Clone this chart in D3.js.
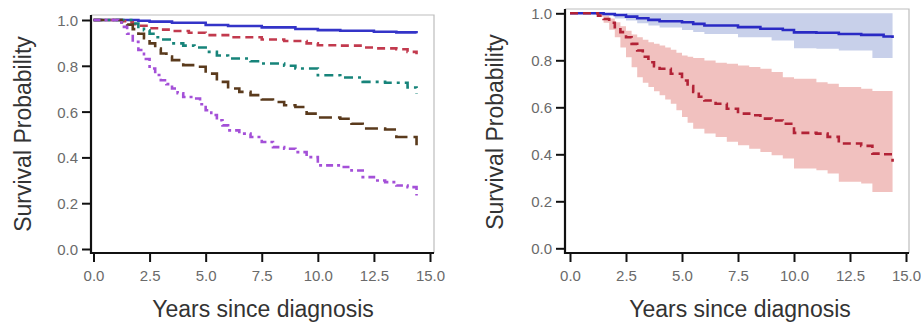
<!DOCTYPE html>
<html>
<head>
<meta charset="utf-8">
<script src="https://cdn.jsdelivr.net/npm/d3@7"></script>
<style>
  body { margin: 0; background: #fff; }
  .tick-label { font-family: "Liberation Sans", Arial, sans-serif; font-size: 15px; fill: #6a6a6a; }
  .axis-title { font-family: "Liberation Sans", Arial, sans-serif; font-size: 23px; fill: #333; }
</style>
</head>
<body>
<svg id="chart" width="921" height="327"></svg>
<script>

// ---------------------------//
//       DATA                 //
// ---------------------------//

var xTicks = [0, 2.5, 5, 7.5, 10, 12.5, 15];
var yTicks = [0, 0.2, 0.4, 0.6, 0.8, 1.0];

// left panel: [years, survival]
var leftBlue = [[0,1],[1.5,1],[2,0.997],[2.5,0.993],[3.5,0.988],[5,0.978],[6,0.974],[7.5,0.968],[9,0.961],[10,0.956],[11,0.953],[12.5,0.949],[13.5,0.946],[14.4,0.942]];
var leftRed = [[0,1],[1,1],[1.25,0.995],[1.5,0.99],[1.75,0.982],[2,0.975],[2.5,0.964],[3,0.958],[3.5,0.952],[4.25,0.944],[5,0.934],[6,0.925],[7.5,0.915],[8.5,0.908],[9.5,0.898],[10,0.89],[11,0.888],[12,0.88],[12.5,0.876],[13.5,0.872],[14,0.861],[14.4,0.85]];
var leftGreen = [[0,1],[1.5,1],[1.75,0.985],[2,0.97],[2.25,0.955],[2.5,0.94],[2.75,0.925],[3,0.915],[3.5,0.898],[4,0.888],[4.5,0.88],[5,0.861],[5.5,0.845],[6,0.832],[7,0.82],[7.5,0.81],[8.5,0.8],[9,0.788],[10,0.759],[11,0.749],[12,0.73],[13,0.726],[14,0.705],[14.4,0.679]];
var leftBrown = [[0,1],[1.25,0.99],[1.5,0.98],[1.75,0.96],[2,0.94],[2.25,0.92],[2.5,0.898],[2.75,0.875],[3,0.854],[3.25,0.84],[3.5,0.825],[4,0.803],[4.5,0.796],[5,0.766],[5.5,0.73],[6,0.701],[6.5,0.686],[7,0.672],[7.5,0.653],[8,0.642],[8.5,0.628],[9,0.62],[9.5,0.591],[10,0.574],[11,0.569],[11.5,0.547],[12,0.526],[13,0.522],[13.5,0.489],[14.4,0.453]];
var leftPurple = [[0,1],[1.1,0.99],[1.25,0.97],[1.5,0.94],[1.75,0.905],[2,0.869],[2.25,0.83],[2.5,0.788],[2.75,0.76],[3,0.737],[3.25,0.72],[3.5,0.701],[3.75,0.68],[4,0.664],[4.5,0.657],[4.75,0.632],[5,0.606],[5.25,0.585],[5.5,0.562],[5.75,0.54],[6,0.518],[6.5,0.504],[7,0.489],[7.5,0.467],[8,0.445],[8.5,0.438],[9,0.423],[9.5,0.401],[10,0.365],[11,0.358],[11.5,0.343],[12,0.314],[12.5,0.299],[13,0.292],[13.5,0.277],[14,0.27],[14.4,0.234]];

// right panel: lines [years, survival], bands [years, lower, upper]
var rightBlue = [[0,1],[1,1],[1.5,0.997],[2,0.993],[2.5,0.986],[3,0.979],[3.5,0.972],[4,0.966],[5,0.962],[5.5,0.955],[6,0.948],[7.5,0.941],[8.5,0.934],[9.5,0.929],[10,0.919],[11,0.917],[12,0.912],[13,0.908],[14,0.901],[14.4,0.895]];
var rightRed = [[0,1],[1,1],[1.25,0.99],[1.5,0.976],[1.75,0.96],[2,0.941],[2.25,0.92],[2.5,0.898],[2.75,0.87],[3,0.842],[3.25,0.815],[3.5,0.792],[3.75,0.775],[4,0.764],[4.5,0.743],[5,0.714],[5.25,0.69],[5.5,0.665],[5.75,0.645],[6,0.629],[6.5,0.615],[7,0.594],[7.5,0.573],[8,0.566],[8.5,0.552],[9,0.544],[9.5,0.53],[10,0.491],[11,0.488],[11.5,0.474],[12,0.446],[13,0.436],[13.5,0.403],[14,0.4],[14.4,0.368]];
var rightBlueBand = [[0,1,1],[1,0.995,1],[1.5,0.99,1],[2,0.978,0.998],[2.5,0.969,1],[3,0.958,1],[3.5,0.948,1],[4,0.94,1],[5,0.929,1],[5.5,0.92,1],[6,0.912,1],[7.5,0.898,1],[9,0.884,1],[10,0.851,1],[11,0.849,1],[12,0.842,1],[13.5,0.81,1],[14.4,0.806,1]];
var rightRedBand = [[0,1,1],[1,1,1],[1.25,0.985,1],[1.5,0.96,0.99],[1.75,0.93,0.978],[2,0.898,0.962],[2.25,0.855,0.945],[2.5,0.813,0.926],[2.75,0.77,0.91],[3,0.728,0.898],[3.25,0.705,0.887],[3.5,0.686,0.877],[3.75,0.668,0.87],[4,0.651,0.863],[4.25,0.633,0.854],[4.5,0.615,0.845],[4.75,0.587,0.832],[5,0.559,0.82],[5.25,0.534,0.815],[5.5,0.509,0.81],[6,0.488,0.799],[6.5,0.474,0.79],[7,0.453,0.785],[7.5,0.439,0.778],[8,0.424,0.772],[8.5,0.41,0.764],[9,0.396,0.75],[9.5,0.382,0.728],[10,0.34,0.721],[11,0.332,0.707],[11.5,0.318,0.7],[12,0.283,0.686],[13,0.276,0.679],[13.5,0.24,0.669],[14.4,0.236,0.669]];

var svg = d3.select("#chart");

// ---------------------------//
//       PANEL                //
// ---------------------------//

function buildPanel(p) {

    var x = d3.scaleLinear().domain([0, 15]).range([p.x0, p.x1]);
    var y = d3.scaleLinear().domain([0, 1]).range([p.y0, p.y1]);

    var g = svg.append("g");

    // frame (top + right, light gray)
    g.append("path")
     .attr("d", "M" + p.left + "," + p.top + "H" + p.right + "V" + p.bottom)
     .attr("fill", "none")
     .attr("stroke", "#bdbdbd")
     .attr("stroke-width", 1.2);

    // confidence bands
    var band = d3.area()
        .curve(d3.curveStepAfter)
        .x(function(d) { return x(d[0]); })
        .y0(function(d) { return y(d[1]); })
        .y1(function(d) { return y(d[2]); });

    p.bands.forEach(function(b) {
        g.append("path")
         .attr("d", band(b.data))
         .attr("fill", b.color);
    });

    // survival curves
    var line = d3.line()
        .curve(d3.curveStepAfter)
        .x(function(d) { return x(d[0]); })
        .y(function(d) { return y(d[1]); });

    p.lines.forEach(function(s) {
        g.append("path")
         .attr("d", line(s.data))
         .attr("fill", "none")
         .attr("stroke", s.color)
         .attr("stroke-width", 2.6)
         .attr("stroke-dasharray", s.dash);
    });

    // Y axis
    var yAxis = g.append("g")
        .attr("transform", "translate(" + p.left + ",0)")
        .call(d3.axisLeft(y).tickValues(yTicks).tickFormat(d3.format(".1f")).tickSize(9).tickPadding(4));
    yAxis.select(".domain").remove();
    yAxis.selectAll(".tick line").attr("stroke", "#111").attr("stroke-width", 2);
    yAxis.selectAll(".tick text").attr("class", "tick-label").attr("dy", "0.36em");

    // X axis
    var xAxis = g.append("g")
        .attr("transform", "translate(0," + p.bottom + ")")
        .call(d3.axisBottom(x).tickValues(xTicks).tickFormat(d3.format(".1f")).tickSize(9).tickPadding(8));
    xAxis.select(".domain").remove();
    xAxis.selectAll(".tick line").attr("stroke", "#111").attr("stroke-width", 2);
    xAxis.selectAll(".tick text").attr("class", "tick-label");

    // axis lines
    g.append("path")
     .attr("d", "M" + p.left + "," + p.top + "V" + p.bottom + "H" + p.right)
     .attr("fill", "none")
     .attr("stroke", "#111")
     .attr("stroke-width", 2.2);

    // axis titles
    g.append("text")
     .attr("class", "axis-title")
     .attr("text-anchor", "middle")
     .attr("transform", "translate(" + p.yTitleX + "," + p.yTitleY + ") rotate(-90)")
     .text("Survival Probability");

    g.append("text")
     .attr("class", "axis-title")
     .attr("text-anchor", "middle")
     .attr("x", p.xTitleX)
     .attr("y", 317)
     .text("Years since diagnosis");
}

buildPanel({
    x0: 93.5, x1: 430, y0: 249, y1: 20,
    left: 91, right: 434, top: 15, bottom: 253,
    yTitleX: 31, yTitleY: 134, xTitleX: 263,
    bands: [],
    lines: [
        { data: leftBlue,   color: "#3434c8", dash: null },
        { data: leftRed,    color: "#c23a4e", dash: "8,5" },
        { data: leftGreen,  color: "#17847a", dash: "9,5,3,5" },
        { data: leftBrown,  color: "#5a3a1c", dash: "13,6" },
        { data: leftPurple, color: "#a450d8", dash: "7,4,3,4" }
    ]
});

buildPanel({
    x0: 570, x1: 906, y0: 248.3, y1: 13.3,
    left: 565, right: 909, top: 9, bottom: 253,
    yTitleX: 503, yTitleY: 132, xTitleX: 740,
    bands: [
        { data: rightBlueBand, color: "#c8d0ea" },
        { data: rightRedBand,  color: "#f1c1bf" }
    ],
    lines: [
        { data: rightBlue, color: "#2a2ac4", dash: null },
        { data: rightRed,  color: "#b22236", dash: "8,5" }
    ]
});

</script>
</body>
</html>
